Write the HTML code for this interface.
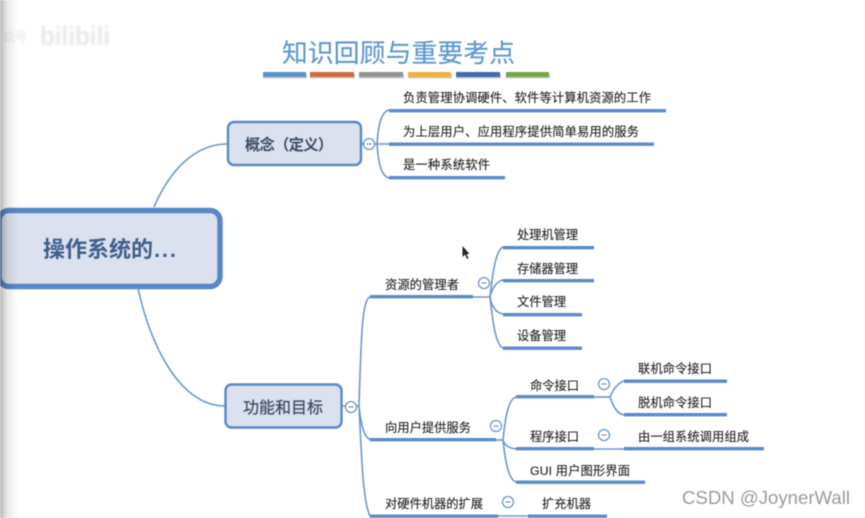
<!DOCTYPE html>
<html><head><meta charset="utf-8">
<style>
html,body{margin:0;padding:0;background:#fff}
body{width:865px;height:518px;overflow:hidden;position:relative}
svg{position:absolute;left:0;top:0;filter:blur(.4px)}
text{font-family:"Liberation Sans","Noto Sans CJK SC",sans-serif;font-size:12.3px;fill:#1f1f1f;stroke:#1f1f1f;stroke-width:.12px}
</style></head><body>
<svg width="865" height="518" viewBox="0 0 865 518" xmlns="http://www.w3.org/2000/svg">
<defs><linearGradient id="s" x1="0" x2="1" y1="0" y2="0"><stop offset="0" stop-color="#000" stop-opacity=".28"/><stop offset=".4" stop-color="#000" stop-opacity=".09"/><stop offset="1" stop-color="#000" stop-opacity="0"/></linearGradient>
<filter id="b" x="-10%" y="-50%" width="120%" height="200%"><feGaussianBlur stdDeviation="1"/></filter></defs>
<g filter="url(#b)">
<text x="3" y="41" style="font-size:12px;fill:#e2e2e2;stroke:none">公号</text>
<text x="40" y="45" style="font-size:27px;font-weight:bold;fill:#e8e8e8;stroke:none" textLength="70" lengthAdjust="spacingAndGlyphs">bilibili</text>
</g>

<text x="282" y="62" style="font-size:25.8px;fill:#5f97cf;stroke:#5f97cf;stroke-width:.15px" textLength="233">知识回顾与重要考点</text>
<g fill="#aaa" opacity=".6">
<rect x="263" y="74" width="44" height="4.500"/><rect x="310" y="74" width="45" height="4.500"/><rect x="359" y="74" width="45" height="4.500"/><rect x="408" y="74" width="44" height="4.500"/><rect x="456" y="74" width="45" height="4.500"/><rect x="506" y="74" width="44" height="4.500"/>
</g>
<g>
<rect x="263" y="72" width="43" height="5" fill="#5b92c8"/>
<rect x="310" y="72" width="44" height="5" fill="#cf6a3a"/>
<rect x="359" y="72" width="44" height="5" fill="#949494"/>
<rect x="408" y="72" width="43" height="5" fill="#edb13c"/>
<rect x="456" y="72" width="44" height="5" fill="#4169ae"/>
<rect x="506" y="72" width="43" height="5" fill="#72a84a"/>
</g>

<g fill="none" stroke="#6b96cf" stroke-width="1.6">
<path d="M154 207C170 170 195 144 227 144"/>
<path d="M138 288C150 345 180 406 225 406"/>
<path d="M361 144H389"/>
<path d="M389 110C380 112 378 130 377 144C378 158 380 176 389 178"/>
<path d="M342 406H359"/>
<path d="M370 297C362 299 361 340 359 406C361 440 362 500 370 516"/>
<path d="M359 406C361 425 364 438 371 440"/>
<path d="M473 297H490"/>
<path d="M503 247C495 250 492 280 490 297C492 315 495 345 503 348"/>
<path d="M490 297C492 308 497 313 503 314"/>
<path d="M490 297C492 288 497 281 503 280"/>
<path d="M496 440H503"/>
<path d="M516 397C508 399 505 420 503 440C505 446 509 448 516 449"/>
<path d="M503 440C505 458 508 480 516 482"/>
<path d="M594 397H610"/>
<path d="M624 381C617 383 613 390 610 397C613 406 617 414 624 415"/>
<path d="M594 449H624"/>
<path d="M498 516H528"/>
</g>

<g fill="#5a8bcb">
<rect x="389" y="109" width="277" height="3.4"/>
<rect x="389" y="142.500" width="265" height="3.4"/>
<rect x="389" y="176" width="116" height="3.4"/>
<rect x="503" y="246" width="91" height="3.4"/>
<rect x="503" y="279" width="91" height="3.4"/>
<rect x="503" y="313" width="79" height="3.4"/>
<rect x="503" y="346.500" width="79" height="3.4"/>
<rect x="370" y="295" width="103" height="3.4"/>
<rect x="370" y="438" width="126" height="3.4"/>
<rect x="370" y="514.500" width="128" height="3.4"/>
<rect x="516" y="395" width="78" height="3.4"/>
<rect x="516" y="447" width="78" height="3.4"/>
<rect x="516" y="480.500" width="129" height="3.4"/>
<rect x="624" y="379.500" width="103" height="3.4"/>
<rect x="624" y="413" width="103" height="3.4"/>
<rect x="624" y="447" width="140" height="3.4"/>
<rect x="528" y="514.500" width="79" height="3.4"/>
</g>

<rect x="-1" y="210.500" width="221" height="76" rx="10" fill="#dbe1ee" stroke="#5a87c5" stroke-width="5.400"/>
<rect x="228" y="122" width="133" height="43" rx="6" fill="#dbe1ee" stroke="#5a87c5" stroke-width="2.400"/>
<rect x="225.500" y="384.500" width="116" height="43" rx="6" fill="#dbe1ee" stroke="#5a87c5" stroke-width="2.400"/>

<text x="43" y="257" style="font-size:22px;font-weight:bold;fill:#3f5f8c;stroke:none">操作系统的</text>
<text x="154" y="257" style="font-size:22px;font-weight:bold;fill:#3f5f8c;stroke:none;letter-spacing:1.800px">...</text>
<text x="245" y="150" style="font-size:15.200px;font-weight:bold;fill:#3c4a66;stroke:none" textLength="88">概念（定义）</text>
<text x="243" y="413" style="font-size:16px;fill:#3c4a66;stroke:#3c4a66;stroke-width:.25px">功能和目标</text>

<text x="403" y="102" textLength="248">负责管理协调硬件、软件等计算机资源的工作</text>
<text x="403" y="136" textLength="236">为上层用户、应用程序提供简单易用的服务</text>
<text x="403" y="169" textLength="87">是一种系统软件</text>
<text x="517" y="239" textLength="61">处理机管理</text>
<text x="517" y="273" textLength="61">存储器管理</text>
<text x="517" y="306" textLength="49">文件管理</text>
<text x="517" y="340" textLength="49">设备管理</text>
<text x="385" y="289" textLength="74">资源的管理者</text>
<text x="385" y="432" textLength="86">向用户提供服务</text>
<text x="385" y="508" textLength="98">对硬件机器的扩展</text>
<text x="530" y="390" textLength="49">命令接口</text>
<text x="530" y="441" textLength="49">程序接口</text>
<text x="530" y="475" textLength="100">GUI 用户图形界面</text>
<text x="638" y="373" textLength="74">联机命令接口</text>
<text x="638" y="407" textLength="74">脱机命令接口</text>
<text x="638" y="441" textLength="111">由一组系统调用组成</text>
<text x="542" y="508" textLength="49">扩充机器</text>
<text x="682" y="504" style="font-size:18.500px;fill:#9a9a9a;stroke:none" textLength="168" lengthAdjust="spacingAndGlyphs">CSDN @JoynerWall</text>

<g fill="#fff" stroke="#6b96cf" stroke-width="1.300">
<circle cx="369" cy="144" r="5.500"/>
<circle cx="351" cy="407" r="5.500"/>
<circle cx="484" cy="283" r="5.500"/>
<circle cx="496" cy="426" r="5.500"/>
<circle cx="604" cy="384" r="5.500"/>
<circle cx="604" cy="435" r="5.500"/>
<circle cx="508" cy="502" r="5.500"/>
</g>
<g stroke="#777" stroke-width="1">
<path d="M366.500 144H371.500M348.500 407H353.500M481.500 283H486.500M493.500 426H498.500M601.500 384H606.500M601.500 435H606.500M505.500 502H510.500"/>
</g>
<path d="M462.500 246V257L465 254.500L467 259L468.500 258.300L466.500 254H469.500Z" fill="#222"/>
<rect x="0" y="0" width="18" height="518" fill="url(#s)"/>
</svg>
</body></html>
